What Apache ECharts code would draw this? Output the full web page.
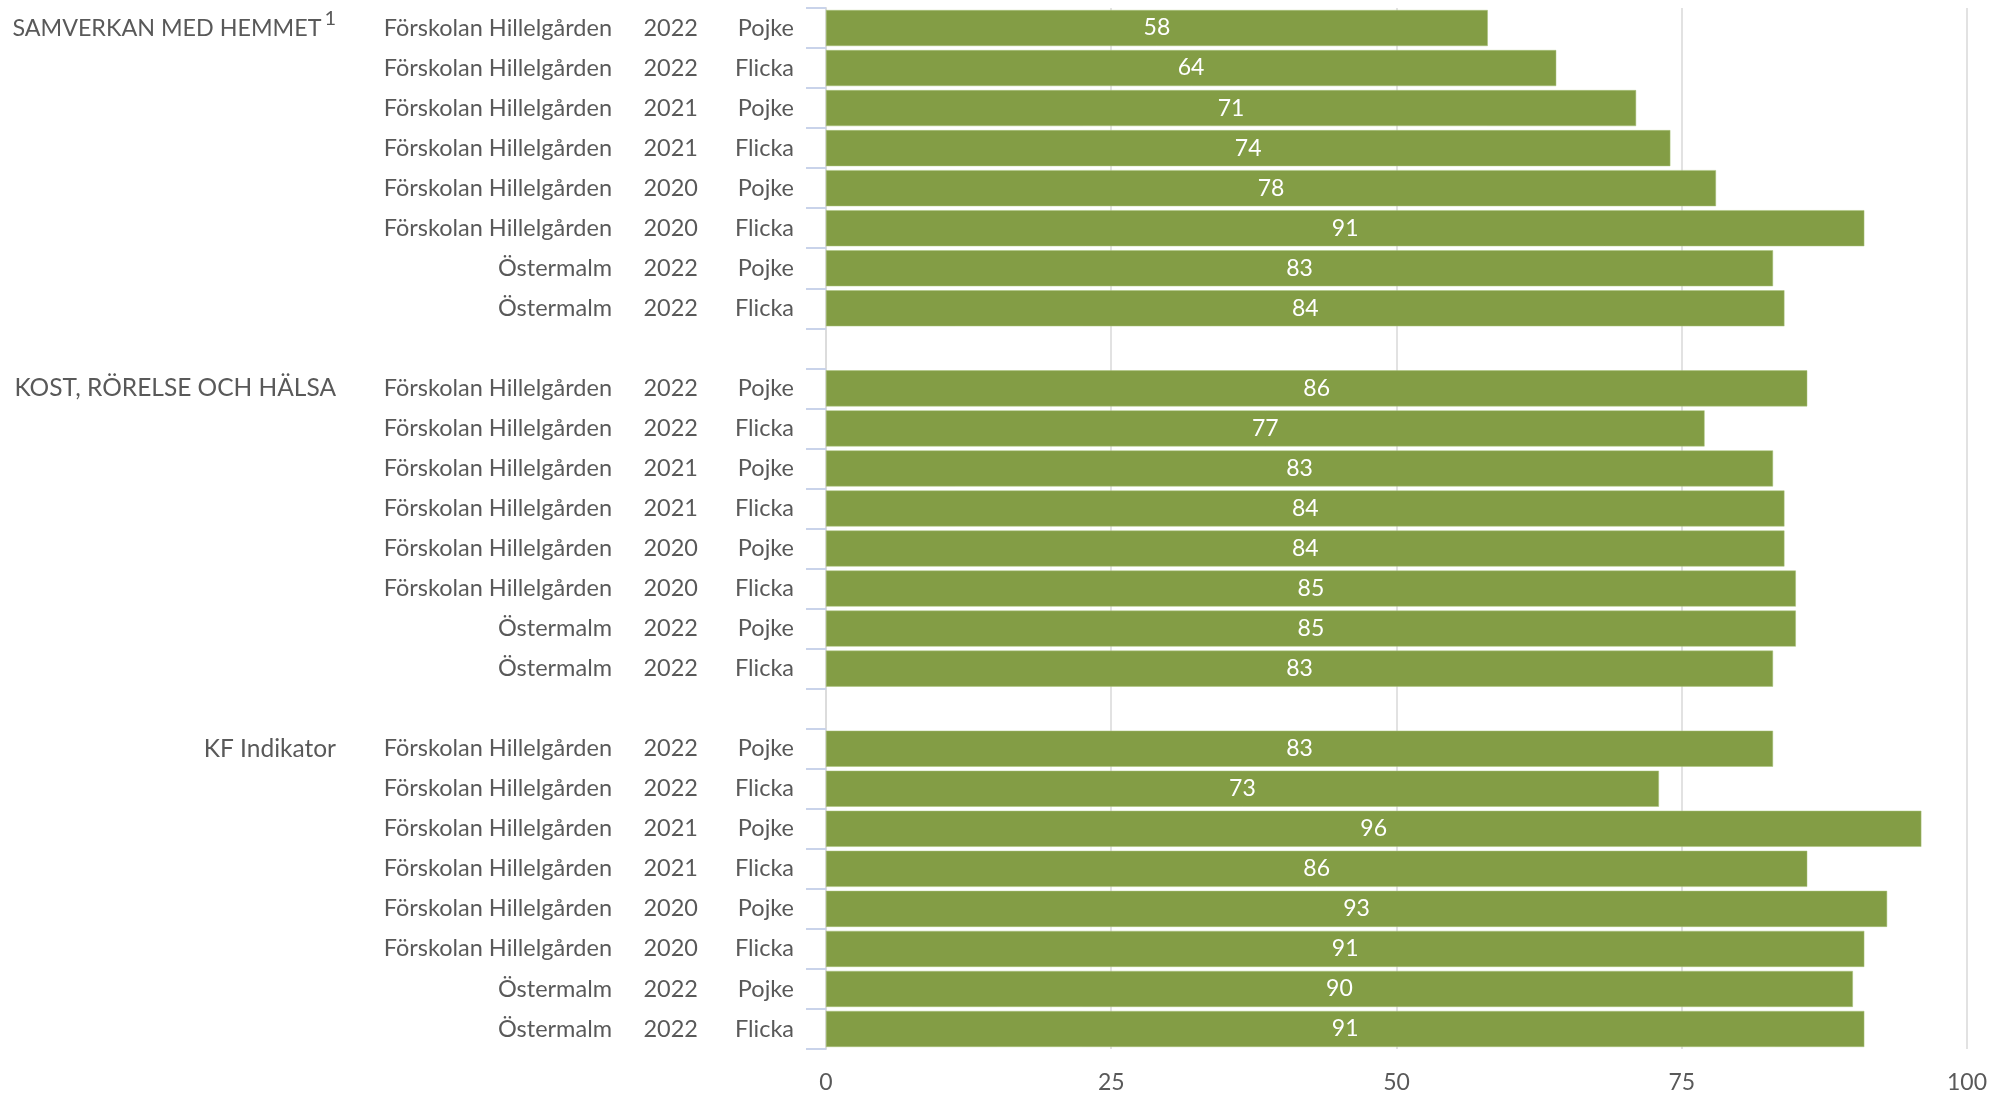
<!DOCTYPE html>
<html><head><meta charset="utf-8">
<script src="https://cdn.jsdelivr.net/npm/echarts@6/dist/echarts.min.js"></script>
<style>html,body{margin:0;padding:0;background:#fff}#c{width:1990px;height:1094px}</style>
</head><body><div id="c"></div>
<script>
const groupLabels = ['{a|SAMVERKAN MED HEMMET}{s|1}','','','','','','','','',
  'KOST, RÖRELSE OCH HÄLSA','','','','','','','','',
  'KF Indikator','','','','','','',''];
const schools = ['Förskolan Hillelgården','Förskolan Hillelgården','Förskolan Hillelgården','Förskolan Hillelgården','Förskolan Hillelgården','Förskolan Hillelgården','Östermalm','Östermalm',''];
const years = ['2022','2022','2021','2021','2020','2020','2022','2022',''];
const genders = ['Pojke','Flicka','Pojke','Flicka','Pojke','Flicka','Pojke','Flicka',''];
const samverkan = [58,64,71,74,78,91,83,84];
const kost = [86,77,83,84,84,85,85,83];
const kf = [83,73,96,86,93,91,90,91];
const xTicks = [0,25,50,75,100];

const schoolCol = [...schools, ...schools, ...schools.slice(0,8)];
const yearCol = [...years, ...years, ...years.slice(0,8)];
const genderCol = [...genders, ...genders, ...genders.slice(0,8)];
const values = [...samverkan, '-', ...kost, '-', ...kf];

const FONT = 'Lato';
const TXT = '#595959';
const labelBase = {fontFamily: FONT, fontSize: 23.5, color: TXT, margin: 0, align: 'right'};
function catAxis(data, offset, showTicks, extra) {
  return {
    type: 'category', inverse: true, position: 'left', offset: offset, data: data,
    axisLine: {show: showTicks, lineStyle: {color: '#dcdcdc', width: 2}},
    axisTick: {show: showTicks, length: 20, lineStyle: {color: '#c9d3ea', width: 2}},
    axisLabel: Object.assign({}, labelBase, extra || {}),
    splitLine: {show: false}
  };
}
const chart = echarts.init(document.getElementById('c'));
chart.setOption({
  animation: false,
  grid: {left: 826, right: 18, top: 8, bottom: 45, containLabel: false},
  xAxis: {
    type: 'value', min: 0, max: 100, interval: 25,
    axisLine: {show: false}, axisTick: {show: false},
    splitLine: {show: true, lineStyle: {color: '#e2e2e2', width: 2}},
    axisLabel: {fontFamily: FONT, fontSize: 23, color: TXT, margin: 22,
      formatter: v => xTicks.includes(v) ? String(v) : ''}
  },
  yAxis: [
    catAxis(genderCol, 0, true, {margin: 32}),
    catAxis(yearCol, 128, false),
    catAxis(schoolCol, 214, false),
    catAxis(groupLabels, 490, false, {
      fontSize: 24.5,
      rich: {a: {fontFamily: FONT, fontSize: 23.3, color: TXT},
             s: {fontFamily: FONT, fontSize: 20, color: TXT, padding: [0,0,18,3]}}
    })
  ],
  series: [{
    type: 'bar', yAxisIndex: 0, data: values, barCategoryGap: '10%',
    itemStyle: {color: '#839d45', borderColor: '#a9c27a', borderWidth: 0.5},
    label: {show: true, position: 'inside', color: '#fff', fontFamily: FONT, fontSize: 23}
  }]
});
</script></body></html>
